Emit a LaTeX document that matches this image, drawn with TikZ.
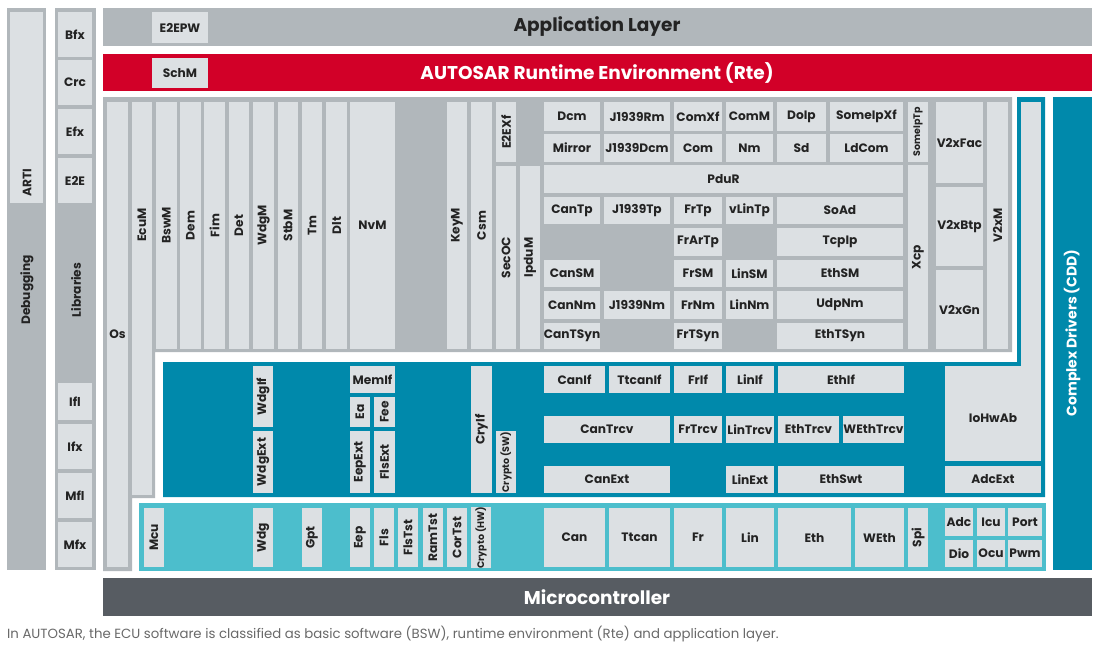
\documentclass[tikz,border=0pt]{standalone}
\usepackage{fontspec}
\setmainfont{Poppins}
\definecolor{boxc}{RGB}{220,224,227}
\definecolor{grayc}{RGB}{177,183,187}
\definecolor{rtec}{RGB}{210,0,40}
\definecolor{tealc}{RGB}{0,137,171}
\definecolor{ltealc}{RGB}{76,190,204}
\definecolor{mcuc}{RGB}{87,92,98}
\definecolor{txtc}{RGB}{35,35,35}
\definecolor{capc}{RGB}{105,105,105}
\tikzset{
  box/.style={fill=boxc, inner sep=0pt, outer sep=0pt, text=txtc, font=\fontsize{12.2}{12.2}\selectfont\bfseries},
  smallfont/.style={font=\fontsize{9.5}{9.5}\selectfont\bfseries},
  lbl/.style={inner sep=0pt, text=txtc, font=\fontsize{12.2}{12.2}\selectfont\bfseries},
  title/.style={inner sep=0pt, font=\fontsize{18.5}{18.5}\selectfont\bfseries},
}
\newcommand\blk[7][]{\node[box,#1,minimum width={#5-#3},minimum height={#6-#4}] (#2) at ({(#3+#5)/2},{(#4+#6)/2}) {#7};}
\newcommand\vblk[7][]{\node[box,#1,minimum width={#5-#3},minimum height={#6-#4}] (#2) at ({(#3+#5)/2},{(#4+#6)/2}) {\rotatebox{90}{#7}};}
\begin{document}
\begin{tikzpicture}[x=1pt,y=-1pt]
\fill[white] (0,0) rectangle (1106,648);
\useasboundingbox (0,0) rectangle (1106,648);
% ---------- background regions ----------
\fill[grayc] (7,8) rectangle (46,570);
\fill[grayc] (55,8) rectangle (96,570);
\fill[grayc] (103,8) rectangle (1092,46);
\fill[rtec] (103,54) rectangle (1092,91);
\fill[grayc] (103,97) -- (1012,97) -- (1012,352) -- (155,352) -- (155,498) -- (132,498) -- (132,571) -- (103,571) -- cycle;
\fill[tealc] (163,362) -- (1017,362) -- (1017,97) -- (1045,97) -- (1045,497) -- (163,497) -- cycle;
\fill[ltealc] (139,503) rectangle (1046,571);
\fill[tealc] (1053,97) rectangle (1092,570);
\fill[mcuc] (103,578) rectangle (1092,616);
% ---------- titles ----------
\node[title,text=txtc] (app) at (597,27) {Application Layer};
\node[title,text=white] (rte) at (597,73) {AUTOSAR Runtime Environment (Rte)};
\node[title,text=white] (mcu) at (597,597) {Microcontroller};
\node[title,text=white,font=\fontsize{14}{14}\selectfont\bfseries] (cdd) at (1072,333) {\rotatebox{90}{Complex Drivers (CDD)}};
\node[anchor=west,inner sep=0pt,text=capc,font=\fontsize{13.3}{13.3}\selectfont] (cap) at (7,634) {In AUTOSAR, the ECU software is classified as basic software (BSW), runtime environment (Rte) and application layer.};
\blk{e2epw}{152}{12}{208}{43}{E2EPW}
\blk{schm}{152}{58}{208}{88}{SchM}
% ---------- debugging / libraries ----------
\blk{arti}{10}{12}{43}{203}{}
\node[lbl] (artilbl) at (27,183) {\rotatebox{90}{ARTI}};
\node[lbl] (dbg) at (27,290) {\rotatebox{90}{Debugging}};
\node[lbl] (libs) at (76,290) {\rotatebox{90}{Libraries}};
\blk{bfx}{58}{12}{92}{57}{Bfx}
\blk{crc}{58}{60}{92}{105}{Crc}
\blk{efx}{58}{109}{92}{154}{Efx}
\blk{e2e}{58}{158}{92}{203}{E2E}
\blk{ifl}{58}{383}{92}{420}{Ifl}
\blk{ifx}{58}{424}{92}{469}{Ifx}
\blk{mfl}{58}{473}{92}{518}{Mfl}
\blk{mfx}{58}{522}{92}{567}{Mfx}
% ---------- services ----------
\blk{os}{107}{102}{128}{567}{Os}
\blk{ecum}{132}{102}{152}{495}{}
\node[lbl] (ecumlbl) at (142,225) {\rotatebox{90}{EcuM}};
\vblk{bswm}{156}{102}{177}{349}{BswM}
\vblk{dem}{180}{102}{201}{349}{Dem}
\vblk{fim}{204}{102}{225}{349}{Fim}
\vblk{det}{229}{102}{249}{349}{Det}
\vblk{wdgm}{253}{102}{274}{349}{WdgM}
\vblk{stbm}{278}{102}{298}{349}{StbM}
\vblk{tm}{302}{102}{322}{349}{Tm}
\vblk{dlt}{326}{102}{347}{349}{Dlt}
\blk{nvm}{350}{102}{395}{349}{NvM}
\vblk{keym}{447}{102}{467}{349}{KeyM}
\vblk{csm}{471}{102}{492}{349}{Csm}
\vblk{e2exf}{496}{102}{516}{162}{E2EXf}
\vblk{secoc}{496}{166}{516}{349}{SecOC}
\vblk{ipdum}{520}{166}{540}{349}{IpduM}
% row 1
\blk{dcm}{544}{102}{600}{131}{Dcm}
\blk{j1939rm}{604}{102}{670}{131}{J1939Rm}
\blk{comxf}{674}{102}{722}{131}{ComXf}
\blk{comm}{726}{102}{773}{131}{ComM}
\blk{doip}{777}{102}{826}{131}{DoIp}
\blk{someipxf}{830}{102}{903}{131}{SomeIpXf}
% row 2
\blk{mirror}{544}{134}{600}{162}{Mirror}
\blk{j1939dcm}{604}{134}{670}{162}{J1939Dcm}
\blk{com}{674}{134}{722}{162}{Com}
\blk{nm}{726}{134}{773}{162}{Nm}
\blk{sd}{777}{134}{826}{162}{Sd}
\blk{ldcom}{830}{134}{903}{162}{LdCom}
\vblk[smallfont]{someiptp}{908}{102}{928}{162}{SomeIpTp}
\blk{pdur}{544}{165}{903}{193}{PduR}
% row tp
\blk{cantp}{544}{197}{600}{224}{CanTp}
\blk{j1939tp}{604}{197}{670}{224}{J1939Tp}
\blk{frtp}{674}{197}{722}{224}{FrTp}
\blk{vlintp}{726}{197}{773}{224}{vLinTp}
\blk{soad}{777}{197}{903}{224}{SoAd}
\blk{frartp}{674}{228}{722}{256}{FrArTp}
\blk{tcpip}{777}{228}{903}{256}{TcpIp}
\blk{cansm}{544}{260}{600}{287}{CanSM}
\blk{frsm}{674}{260}{722}{287}{FrSM}
\blk{linsm}{726}{260}{773}{287}{LinSM}
\blk{ethsm}{777}{260}{903}{287}{EthSM}
\blk{cannm}{544}{291}{600}{319}{CanNm}
\blk{j1939nm}{604}{291}{670}{319}{J1939Nm}
\blk{frnm}{674}{291}{722}{319}{FrNm}
\blk{linnm}{726}{291}{773}{319}{LinNm}
\blk{udpnm}{777}{291}{903}{319}{UdpNm}
\blk{cantsyn}{544}{323}{600}{349}{CanTSyn}
\blk{frtsyn}{674}{323}{722}{349}{FrTSyn}
\blk{ethtsyn}{777}{323}{903}{349}{EthTSyn}
\vblk{xcp}{908}{165}{928}{349}{Xcp}
\blk{v2xfac}{936}{102}{983}{183}{V2xFac}
\blk{v2xbtp}{936}{187}{983}{266}{V2xBtp}
\blk{v2xgn}{936}{270}{983}{349}{V2xGn}
\vblk{v2xm}{987}{102}{1008}{349}{V2xM}
% ---------- ECU abstraction ----------
\vblk{wdgif}{253}{366}{273}{427}{WdgIf}
\vblk{wdgext}{253}{431}{273}{493}{WdgExt}
\blk{memif}{350}{366}{395}{393}{MemIf}
\vblk{ea}{350}{397}{370}{427}{Ea}
\vblk{fee}{374}{397}{395}{427}{Fee}
\vblk{eepext}{350}{431}{370}{493}{EepExt}
\vblk{flsext}{374}{431}{395}{493}{FlsExt}
\vblk{cryif}{471}{366}{492}{493}{CryIf}
\vblk[smallfont]{cryptosw}{496}{431}{516}{493}{Crypto (SW)}
\blk{canif}{544}{366}{605}{393}{CanIf}
\blk{ttcanif}{609}{366}{670}{393}{TtcanIf}
\blk{frif}{674}{366}{722}{393}{FrIf}
\blk{linif}{726}{366}{774}{393}{LinIf}
\blk{ethif}{778}{366}{904}{393}{EthIf}
\blk{cantrcv}{544}{416}{670}{443}{CanTrcv}
\blk{frtrcv}{674}{416}{722}{443}{FrTrcv}
\blk{lintrcv}{726}{416}{774}{443}{LinTrcv}
\blk{ethtrcv}{778}{416}{839}{443}{EthTrcv}
\blk{wethtrcv}{843}{416}{904}{443}{WEthTrcv}
\blk{canext}{544}{466}{670}{493}{CanExt}
\blk{linext}{726}{466}{774}{493}{LinExt}
\blk{ethswt}{778}{466}{904}{493}{EthSwt}
\fill[boxc] (1021,102) rectangle (1041,377);
\blk{iohwab}{945}{376}{1041}{461}{IoHwAb}
\fill[boxc] (945,366) rectangle (1041,377);
\blk{adcext}{945}{466}{1041}{493}{AdcExt}
% ---------- MCAL ----------
\vblk{mcu}{144}{508}{164}{567}{Mcu}
\vblk{wdg}{253}{508}{273}{567}{Wdg}
\vblk{gpt}{302}{508}{322}{567}{Gpt}
\vblk{eep}{350}{508}{370}{567}{Eep}
\vblk{fls}{374}{508}{394}{567}{Fls}
\vblk{flstst}{398}{508}{418}{567}{FlsTst}
\vblk{ramtst}{423}{508}{443}{567}{RamTst}
\vblk{cortst}{447}{508}{467}{567}{CorTst}
\vblk[smallfont]{cryptohw}{471}{508}{491}{567}{Crypto (HW)}
\blk{can}{544}{508}{605}{567}{Can}
\blk{ttcan}{609}{508}{670}{567}{Ttcan}
\blk{fr}{674}{508}{722}{567}{Fr}
\blk{lin}{726}{508}{774}{567}{Lin}
\blk{eth}{778}{508}{851}{567}{Eth}
\blk{weth}{855}{508}{904}{567}{WEth}
\vblk{spi}{908}{508}{928}{567}{Spi}
\blk{adc}{945}{508}{973}{536}{Adc}
\blk{icu}{977}{508}{1005}{536}{Icu}
\blk{port}{1008}{508}{1042}{536}{Port}
\blk{dio}{945}{540}{973}{567}{Dio}
\blk{ocu}{977}{540}{1005}{567}{Ocu}
\blk{pwm}{1008}{540}{1042}{567}{Pwm}
\end{tikzpicture}
\end{document}
